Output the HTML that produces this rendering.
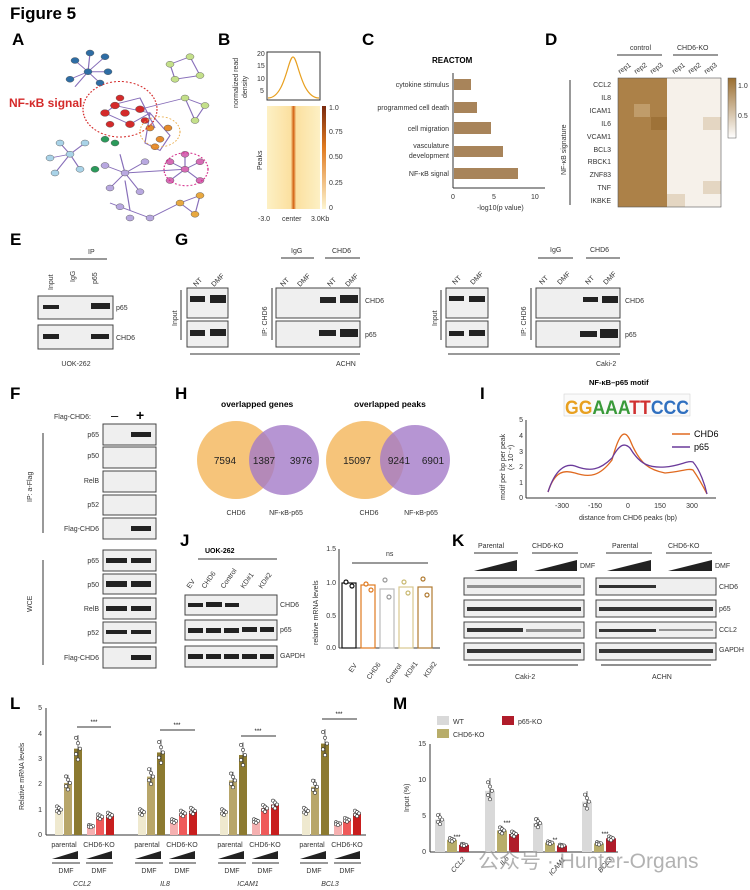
<!DOCTYPE html>
<html><head><meta charset="utf-8"><style>
body{margin:0;background:#fff}
svg{display:block;font-family:"Liberation Sans",sans-serif}
.b{font-weight:bold;font-size:17px}
.s{font-size:7px;fill:#333}
.blot{fill:#efefef;stroke:#444;stroke-width:1}
.band{fill:#222}
</style></head><body>
<svg width="750" height="890" viewBox="0 0 750 890">
<text x="10" y="19" class="b" font-size="17">Figure 5</text>
<text x="12" y="45" class="b">A</text><text x="218" y="45" class="b">B</text>
<text x="362" y="45" class="b">C</text><text x="545" y="45" class="b">D</text>
<text x="10" y="245" class="b">E</text><text x="175" y="245" class="b">G</text>
<text x="10" y="399" class="b">F</text><text x="175" y="399" class="b">H</text>
<text x="480" y="399" class="b">I</text><text x="180" y="546" class="b">J</text>
<text x="452" y="546" class="b">K</text><text x="10" y="709" class="b">L</text>
<text x="393" y="709" class="b">M</text>
<!-- A network -->
<g transform="translate(0,-7) scale(1,0.75)">
<g stroke="#6a4ba8" stroke-width="1.2" opacity="0.8" fill="none">
<path d="M88 105 L75 90 M88 105 L105 85 M88 105 L70 115 M88 105 L100 120 M88 105 L90 80 M88 105 L75 125 M88 105 L108 105"/>
<path d="M115 150 L150 160 L130 175 L105 160 Z M110 150 L140 140 L155 180 M150 160 L170 190 L160 210 L145 200 Z"/>
<path d="M70 215 L60 200 M70 215 L50 220 M70 215 L85 200 M70 215 L80 235 M70 215 L55 240"/>
<path d="M125 240 L105 230 M125 240 L145 225 M125 240 L110 260 M125 240 L140 265 M125 240 L120 215 M125 250 L130 290 L110 280 L150 300"/>
<path d="M185 235 L170 225 M185 235 L200 225 M185 235 L170 250 M185 235 L200 250 M185 235 L185 215"/>
<path d="M170 95 L190 85 L200 110 L175 115 Z M185 140 L205 150 L195 170 Z M180 280 L200 270 L195 295 Z M140 155 L185 140 M125 240 L185 235 M150 300 L180 280"/>
</g>
<g stroke="#555" stroke-width="0.5">
<g fill="#2e6da4"><circle cx="88" cy="105" r="4"/><circle cx="75" cy="90" r="4"/><circle cx="105" cy="85" r="4"/><circle cx="70" cy="115" r="4"/><circle cx="100" cy="120" r="4"/><circle cx="90" cy="80" r="4"/><circle cx="108" cy="105" r="4"/></g>
<g fill="#d42a2a"><circle cx="105" cy="160" r="4.5"/><circle cx="115" cy="150" r="4.5"/><circle cx="130" cy="175" r="4.5"/><circle cx="140" cy="155" r="4.5"/><circle cx="125" cy="160" r="4.5"/><circle cx="110" cy="175" r="4"/><circle cx="145" cy="170" r="4"/><circle cx="120" cy="140" r="4"/></g>
<g fill="#e58a2c"><circle cx="150" cy="180" r="4"/><circle cx="160" cy="195" r="4"/><circle cx="168" cy="180" r="4"/><circle cx="155" cy="205" r="4"/></g>
<g fill="#d66bb5"><circle cx="185" cy="235" r="4"/><circle cx="170" cy="225" r="4"/><circle cx="200" cy="225" r="4"/><circle cx="170" cy="250" r="4"/><circle cx="200" cy="250" r="4"/><circle cx="185" cy="215" r="4"/></g>
<g fill="#a9d3e8"><circle cx="70" cy="215" r="4"/><circle cx="60" cy="200" r="4"/><circle cx="50" cy="220" r="4"/><circle cx="85" cy="200" r="4"/><circle cx="80" cy="235" r="4"/><circle cx="55" cy="240" r="4"/></g>
<g fill="#b8a8e0"><circle cx="125" cy="240" r="4"/><circle cx="105" cy="230" r="4"/><circle cx="145" cy="225" r="4"/><circle cx="110" cy="260" r="4"/><circle cx="140" cy="265" r="4"/><circle cx="120" cy="285" r="4"/><circle cx="150" cy="300" r="4"/><circle cx="130" cy="300" r="4"/></g>
<g fill="#c4e08a"><circle cx="170" cy="95" r="4"/><circle cx="190" cy="85" r="4"/><circle cx="200" cy="110" r="4"/><circle cx="175" cy="115" r="4"/><circle cx="185" cy="140" r="4"/><circle cx="205" cy="150" r="4"/><circle cx="195" cy="170" r="4"/></g>
<g fill="#e8a840"><circle cx="180" cy="280" r="4"/><circle cx="200" cy="270" r="4"/><circle cx="195" cy="295" r="4"/></g>
<g fill="#2a9a5a"><circle cx="105" cy="195" r="4"/><circle cx="115" cy="200" r="4"/><circle cx="95" cy="235" r="4"/></g>
</g>
<circle cx="120" cy="155" r="37" fill="none" stroke="#d42a2a" stroke-dasharray="2,2" stroke-width="1.3"/>
<circle cx="160" cy="185" r="20" fill="none" stroke="#e8a840" stroke-dasharray="2,2"/>
<circle cx="186" cy="235" r="22" fill="none" stroke="#d42a8a" stroke-dasharray="2,2" stroke-width="1.3"/>
</g>
<text x="9" y="107" fill="#d42a2a" font-weight="bold" font-size="12">NF-κB signal</text>
<!-- B -->
<rect x="267" y="52" width="53" height="48" fill="none" stroke="#333"/>
<path d="M268 98 C285 98 288 57 293 57 C298 57 301 98 319 98" fill="none" stroke="#e8a020" stroke-width="1.2"/>
<g class="s" font-size="6"><text x="257" y="56">20</text><text x="257" y="68">15</text><text x="257" y="81">10</text><text x="260" y="93">5</text></g>
<text transform="translate(238,108) rotate(-90)" class="s" font-size="6.5">normalized read</text>
<text transform="translate(247,98) rotate(-90)" class="s" font-size="6.5">density</text>
<defs><linearGradient id="hg" x1="0" x2="1"><stop offset="0" stop-color="#fdf0c4"/><stop offset="0.45" stop-color="#fbe0a0"/><stop offset="0.5" stop-color="#d26010"/><stop offset="0.55" stop-color="#fbe0a0"/><stop offset="1" stop-color="#fdf0c4"/></linearGradient>
<linearGradient id="cb" x1="0" y1="0" x2="0" y2="1"><stop offset="0" stop-color="#7a2a10"/><stop offset="0.4" stop-color="#e07a20"/><stop offset="1" stop-color="#fdf5d0"/></linearGradient>
<linearGradient id="cd" x1="0" y1="0" x2="0" y2="1"><stop offset="0" stop-color="#9a6e30"/><stop offset="1" stop-color="#fff"/></linearGradient></defs>
<rect x="267" y="106" width="53" height="103" fill="url(#hg)"/>
<rect x="322" y="106" width="4" height="103" fill="url(#cb)"/>
<g class="s" font-size="6"><text x="329" y="110">1.0</text><text x="329" y="134">0.75</text><text x="329" y="159">0.50</text><text x="329" y="185">0.25</text><text x="329" y="210">0</text></g>
<text transform="translate(262,170) rotate(-90)" class="s" font-size="8">Peaks</text>
<g class="s"><text x="258" y="221">-3.0</text><text x="282" y="221">center</text><text x="311" y="221">3.0Kb</text></g>
<!-- C -->
<text x="432" y="63" font-size="8" font-weight="bold">REACTOM</text>
<line x1="453" y1="73" x2="453" y2="188" stroke="#333"/><line x1="453" y1="188" x2="545" y2="188" stroke="#333"/>
<g fill="#a8845a"><rect x="454" y="79" width="17" height="11"/><rect x="454" y="102" width="23" height="11"/><rect x="454" y="122" width="37" height="12"/><rect x="454" y="146" width="49" height="11"/><rect x="454" y="168" width="64" height="11"/></g>
<g class="s" text-anchor="end" font-size="7.5"><text x="449" y="87">cytokine stimulus</text><text x="449" y="110">programmed cell death</text><text x="449" y="131">cell migration</text><text x="449" y="148">vasculature</text><text x="449" y="158">development</text><text x="449" y="176">NF-κB signal</text></g>
<g class="s"><text x="451" y="199">0</text><text x="492" y="199">5</text><text x="531" y="199">10</text><text x="477" y="210">-log10(p value)</text></g>
<!-- D -->
<text x="630" y="50" class="s">control</text><text x="677" y="50" class="s">CHD6-KO</text>
<line x1="617" y1="55" x2="662" y2="55" stroke="#333"/><line x1="673" y1="55" x2="718" y2="55" stroke="#333"/>
<g class="s" font-size="6.5"><text transform="translate(620,74) rotate(-35)">rep1</text><text transform="translate(636,74) rotate(-35)">rep2</text><text transform="translate(652,74) rotate(-35)">rep3</text><text transform="translate(674,74) rotate(-35)">rep1</text><text transform="translate(690,74) rotate(-35)">rep2</text><text transform="translate(706,74) rotate(-35)">rep3</text></g>
<rect x="618" y="78" width="49" height="129" fill="#ac8148"/>
<rect x="634" y="104" width="16" height="13" fill="#c09c6a"/><rect x="651" y="117" width="16" height="13" fill="#9e7238"/>
<rect x="667" y="78" width="54" height="129" fill="#f6f1ea"/>
<rect x="703" y="117" width="18" height="13" fill="#e4d6c2"/><rect x="703" y="181" width="18" height="13" fill="#e4d6c2"/><rect x="667" y="194" width="18" height="13" fill="#e4d6c2"/>
<rect x="618" y="78" width="103" height="129" fill="none" stroke="#555" stroke-width="0.6"/>
<g class="s" text-anchor="end" font-size="7.5"><text x="611" y="87">CCL2</text><text x="611" y="100">IL8</text><text x="611" y="113">ICAM1</text><text x="611" y="126">IL6</text><text x="611" y="139">VCAM1</text><text x="611" y="152">BCL3</text><text x="611" y="164">RBCK1</text><text x="611" y="177">ZNF83</text><text x="611" y="190">TNF</text><text x="611" y="203">IKBKE</text></g>
<line x1="570" y1="80" x2="570" y2="205" stroke="#333"/>
<text transform="translate(566,175) rotate(-90)" class="s">NF-κB signature</text>
<rect x="728" y="78" width="8" height="60" fill="url(#cd)" stroke="#555" stroke-width="0.5"/>
<text x="738" y="88" class="s" font-size="6">1.0</text><text x="738" y="118" class="s" font-size="6">0.5</text>
<!-- E -->
<text x="88" y="254" class="s">IP</text><line x1="70" y1="259" x2="107" y2="259" stroke="#333"/>
<g class="s"><text transform="translate(53,290) rotate(-90)">Input</text><text transform="translate(75,282) rotate(-90)">IgG</text><text transform="translate(97,284) rotate(-90)">p65</text></g>
<rect x="38" y="296" width="75" height="23" class="blot"/><rect x="38" y="325" width="75" height="24" class="blot"/>
<rect x="43" y="305" width="16" height="4" class="band"/><rect x="91" y="303" width="19" height="6" class="band"/>
<rect x="43" y="334" width="16" height="5" class="band"/><rect x="91" y="334" width="18" height="5" class="band"/>
<text x="116" y="310" class="s">p65</text><text x="116" y="340" class="s">CHD6</text><text x="76" y="366" class="s" text-anchor="middle">UOK-262</text>
<!-- G -->
<g class="s"><text x="291" y="253">IgG</text><text x="332" y="253">CHD6</text><text x="550" y="252">IgG</text><text x="590" y="252">CHD6</text></g>
<g stroke="#333"><line x1="281" y1="258" x2="314" y2="258"/><line x1="325" y1="258" x2="360" y2="258"/><line x1="538" y1="258" x2="573" y2="258"/><line x1="586" y1="258" x2="620" y2="258"/></g>
<g class="s" font-size="7.5"><text transform="translate(196,287) rotate(-45)">NT</text><text transform="translate(214,287) rotate(-45)">DMF</text><text transform="translate(283,287) rotate(-45)">NT</text><text transform="translate(300,287) rotate(-45)">DMF</text><text transform="translate(330,287) rotate(-45)">NT</text><text transform="translate(348,287) rotate(-45)">DMF</text>
<text transform="translate(455,285) rotate(-45)">NT</text><text transform="translate(473,285) rotate(-45)">DMF</text><text transform="translate(542,285) rotate(-45)">NT</text><text transform="translate(560,285) rotate(-45)">DMF</text><text transform="translate(588,285) rotate(-45)">NT</text><text transform="translate(606,285) rotate(-45)">DMF</text></g>
<g class="blot"><rect x="187" y="288" width="41" height="30"/><rect x="187" y="321" width="41" height="26"/><rect x="276" y="288" width="84" height="30"/><rect x="276" y="321" width="84" height="26"/>
<rect x="446" y="288" width="42" height="30"/><rect x="446" y="321" width="42" height="26"/><rect x="536" y="288" width="84" height="30"/><rect x="536" y="321" width="84" height="26"/></g>
<g class="band"><rect x="190" y="296" width="15" height="6"/><rect x="210" y="295" width="16" height="8"/><rect x="320" y="297" width="16" height="6"/><rect x="340" y="295" width="18" height="8"/>
<rect x="190" y="330" width="15" height="6"/><rect x="210" y="329" width="16" height="7"/><rect x="319" y="330" width="17" height="6"/><rect x="340" y="329" width="18" height="8"/>
<rect x="449" y="296" width="15" height="5"/><rect x="469" y="296" width="16" height="6"/><rect x="583" y="297" width="15" height="5"/><rect x="602" y="296" width="16" height="7"/>
<rect x="449" y="331" width="15" height="5"/><rect x="469" y="330" width="16" height="6"/><rect x="580" y="331" width="17" height="6"/><rect x="600" y="329" width="18" height="9"/></g>
<g class="s"><text x="365" y="303">CHD6</text><text x="365" y="337">p65</text><text x="625" y="303">CHD6</text><text x="625" y="337">p65</text></g>
<line x1="181" y1="290" x2="181" y2="340" stroke="#333"/><line x1="272" y1="288" x2="272" y2="340" stroke="#333"/><line x1="441" y1="290" x2="441" y2="340" stroke="#333"/><line x1="531" y1="288" x2="531" y2="340" stroke="#333"/>
<text transform="translate(177,326) rotate(-90)" class="s">Input</text><text transform="translate(267,336) rotate(-90)" class="s">IP: CHD6</text>
<text transform="translate(437,326) rotate(-90)" class="s">Input</text><text transform="translate(526,336) rotate(-90)" class="s">IP: CHD6</text>
<line x1="190" y1="354" x2="360" y2="354" stroke="#333"/><line x1="448" y1="354" x2="620" y2="354" stroke="#333"/>
<text x="336" y="366" class="s">ACHN</text><text x="596" y="366" class="s">Caki-2</text>
<!-- F -->
<text x="54" y="419" class="s">Flag-CHD6:</text><text x="111" y="420" font-size="13">–</text><text x="136" y="420" font-size="14" font-weight="bold">+</text>
<g class="blot"><rect x="103" y="424" width="53" height="21"/><rect x="103" y="447" width="53" height="21"/><rect x="103" y="471" width="53" height="21"/><rect x="103" y="495" width="53" height="20"/><rect x="103" y="518" width="53" height="21"/>
<rect x="103" y="550" width="53" height="21"/><rect x="103" y="574" width="53" height="20"/><rect x="103" y="598" width="53" height="21"/><rect x="103" y="622" width="53" height="21"/><rect x="103" y="647" width="53" height="21"/></g>
<g class="band"><rect x="131" y="432" width="20" height="5"/><rect x="131" y="526" width="20" height="5"/><rect x="106" y="558" width="21" height="5"/><rect x="131" y="558" width="20" height="5"/><rect x="106" y="581" width="21" height="6"/><rect x="131" y="581" width="20" height="6"/><rect x="106" y="606" width="21" height="5"/><rect x="131" y="606" width="20" height="5"/><rect x="106" y="630" width="21" height="4"/><rect x="131" y="630" width="20" height="4"/><rect x="131" y="655" width="20" height="5"/></g>
<g class="s" text-anchor="end"><text x="99" y="437">p65</text><text x="99" y="458">p50</text><text x="99" y="483">RelB</text><text x="99" y="507">p52</text><text x="99" y="531">Flag-CHD6</text><text x="99" y="563">p65</text><text x="99" y="587">p50</text><text x="99" y="611">RelB</text><text x="99" y="635">p52</text><text x="99" y="660">Flag-CHD6</text></g>
<line x1="43" y1="433" x2="43" y2="533" stroke="#333"/><line x1="43" y1="560" x2="43" y2="665" stroke="#333"/>
<text transform="translate(32,502) rotate(-90)" class="s">IP: a-Flag</text><text transform="translate(32,612) rotate(-90)" class="s">WCE</text>
<!-- H -->
<text x="221" y="407" font-size="8.5" font-weight="bold">overlapped genes</text><text x="354" y="407" font-size="8.5" font-weight="bold">overlapped peaks</text>
<circle cx="236" cy="460" r="39" fill="#f6c47a"/><circle cx="284" cy="460" r="35" fill="#a47bc8" fill-opacity="0.8"/>
<circle cx="365" cy="460" r="39" fill="#f6c47a"/><circle cx="415" cy="460" r="35" fill="#a47bc8" fill-opacity="0.8"/>
<g font-size="10" text-anchor="middle" fill="#222"><text x="225" y="464">7594</text><text x="264" y="464">1387</text><text x="301" y="464">3976</text><text x="357" y="464">15097</text><text x="399" y="464">9241</text><text x="433" y="464">6901</text></g>
<g class="s" text-anchor="middle"><text x="236" y="515">CHD6</text><text x="286" y="515">NF-κB-p65</text><text x="369" y="515">CHD6</text><text x="421" y="515">NF-κB-p65</text></g>
<!-- I -->
<text x="589" y="385" font-size="7.5" font-weight="bold">NF-κB–p65 motif</text>
<rect x="564" y="394" width="126" height="22" fill="#fafafa" stroke="#ccc" stroke-width="0.5"/>
<text x="565" y="414" font-size="19" font-weight="bold" fill="#e8a020" textLength="124" lengthAdjust="spacingAndGlyphs">GG<tspan fill="#3a9a3a">AAA</tspan><tspan fill="#d03030">TT</tspan><tspan fill="#3070c0">CCC</tspan></text>
<line x1="526" y1="420" x2="526" y2="498" stroke="#333"/><line x1="526" y1="498" x2="716" y2="498" stroke="#333"/>
<g class="s" font-size="6" text-anchor="end"><text x="523" y="422">5</text><text x="523" y="438">4</text><text x="523" y="454">3</text><text x="523" y="469">2</text><text x="523" y="485">1</text><text x="523" y="500">0</text></g>
<path d="M548 492 C555 470 565 470 575 473 C590 478 600 476 612 460 C620 430 625 430 630 440 C640 465 650 470 665 473 C680 472 688 468 693 470 C700 480 705 490 707 494" fill="none" stroke="#e06a20" stroke-width="1.3"/>
<path d="M548 492 C555 470 565 463 575 466 C590 472 600 470 612 458 C620 443 625 443 630 448 C640 465 650 468 665 467 C680 466 688 460 693 462 C700 470 705 485 707 494" fill="none" stroke="#6a3a9a" stroke-width="1.3"/>
<line x1="672" y1="434" x2="690" y2="434" stroke="#e06a20" stroke-width="1.5"/><text x="694" y="437" font-size="9">CHD6</text>
<line x1="672" y1="447" x2="690" y2="447" stroke="#6a3a9a" stroke-width="1.5"/><text x="694" y="450" font-size="9">p65</text>
<g class="s" font-size="6.5" text-anchor="middle"><text x="562" y="508">-300</text><text x="595" y="508">-150</text><text x="628" y="508">0</text><text x="660" y="508">150</text><text x="692" y="508">300</text></g>
<text x="628" y="520" class="s" text-anchor="middle">distance from CHD6 peaks (bp)</text>
<text transform="translate(505,500) rotate(-90)" class="s" font-size="6">motif per bp per peak</text>
<text transform="translate(513,470) rotate(-90)" class="s" font-size="6">(× 10⁻⁴)</text>
<!-- J -->
<text x="205" y="553" font-size="7" font-weight="bold">UOK-262</text><line x1="198" y1="559" x2="277" y2="559" stroke="#333"/>
<g class="s"><text transform="translate(190,589) rotate(-55)">EV</text><text transform="translate(205,589) rotate(-55)">CHD6</text><text transform="translate(224,589) rotate(-55)">Control</text><text transform="translate(244,589) rotate(-55)">KD#1</text><text transform="translate(262,589) rotate(-55)">KD#2</text></g>
<g class="blot"><rect x="185" y="595" width="92" height="20"/><rect x="185" y="620" width="92" height="20"/><rect x="185" y="646" width="92" height="21"/></g>
<g class="band"><rect x="188" y="603" width="15" height="4"/><rect x="206" y="602" width="16" height="5"/><rect x="225" y="603" width="14" height="4"/>
<rect x="188" y="628" width="15" height="5"/><rect x="206" y="628" width="15" height="5"/><rect x="224" y="628" width="15" height="5"/><rect x="242" y="627" width="15" height="5"/><rect x="260" y="627" width="14" height="5"/>
<rect x="188" y="654" width="15" height="5"/><rect x="206" y="654" width="15" height="5"/><rect x="224" y="654" width="15" height="5"/><rect x="242" y="654" width="15" height="5"/><rect x="260" y="654" width="14" height="5"/></g>
<g class="s"><text x="280" y="607">CHD6</text><text x="280" y="632">p65</text><text x="280" y="658">GAPDH</text></g>
<text x="386" y="556" class="s">ns</text><line x1="352" y1="563" x2="428" y2="563" stroke="#333"/>
<line x1="339" y1="549" x2="339" y2="648" stroke="#333"/><line x1="339" y1="648" x2="440" y2="648" stroke="#333"/>
<g fill="none" stroke-width="1.2"><rect x="342" y="583" width="14" height="65" stroke="#111"/><rect x="361" y="585" width="14" height="63" stroke="#e07a20"/><rect x="380" y="589" width="14" height="59" stroke="#bbb"/><rect x="399" y="587" width="14" height="61" stroke="#d8c890"/><rect x="418" y="587" width="14" height="61" stroke="#b07a30"/></g>
<g fill="#fff" stroke-width="1.2"><circle cx="346" cy="582" r="2" stroke="#111"/><circle cx="352" cy="586" r="2" stroke="#111"/><circle cx="366" cy="584" r="2" stroke="#e07a20"/><circle cx="371" cy="590" r="2" stroke="#e07a20"/><circle cx="385" cy="580" r="2" stroke="#999"/><circle cx="389" cy="597" r="2" stroke="#999"/><circle cx="404" cy="582" r="2" stroke="#c8b870"/><circle cx="408" cy="593" r="2" stroke="#c8b870"/><circle cx="423" cy="579" r="2" stroke="#b07a30"/><circle cx="427" cy="595" r="2" stroke="#b07a30"/></g>
<g class="s" font-size="6" text-anchor="end"><text x="336" y="551">1.5</text><text x="336" y="585">1.0</text><text x="336" y="618">0.5</text><text x="336" y="650">0.0</text></g>
<text transform="translate(318,645) rotate(-90)" class="s">relative mRNA levels</text>
<g class="s"><text transform="translate(352,673) rotate(-55)">EV</text><text transform="translate(370,680) rotate(-55)">CHD6</text><text transform="translate(389,684) rotate(-55)">Control</text><text transform="translate(408,678) rotate(-55)">KD#1</text><text transform="translate(427,678) rotate(-55)">KD#2</text></g>
<!-- K -->
<g class="s"><text x="478" y="548">Parental</text><text x="532" y="548">CHD6-KO</text><text x="612" y="548">Parental</text><text x="668" y="548">CHD6-KO</text></g>
<g stroke="#333"><line x1="474" y1="553" x2="518" y2="553"/><line x1="532" y1="553" x2="578" y2="553"/><line x1="606" y1="553" x2="652" y2="553"/><line x1="666" y1="553" x2="712" y2="553"/></g>
<g fill="#222"><path d="M474 571 L517 560 L517 571Z"/><path d="M534 571 L577 560 L577 571Z"/><path d="M607 571 L651 560 L651 571Z"/><path d="M668 571 L712 560 L712 571Z"/></g>
<g class="s" font-size="5"><text x="580" y="568">DMF</text><text x="715" y="568">DMF</text></g>
<g class="blot"><rect x="464" y="578" width="120" height="17"/><rect x="464" y="600" width="120" height="17"/><rect x="464" y="622" width="120" height="16"/><rect x="464" y="643" width="120" height="17"/>
<rect x="596" y="578" width="120" height="17"/><rect x="596" y="600" width="120" height="17"/><rect x="596" y="622" width="120" height="16"/><rect x="596" y="643" width="120" height="17"/></g>
<g fill="#333"><rect x="467" y="585" width="114" height="3" opacity="0.5"/><rect x="467" y="607" width="114" height="4"/><rect x="467" y="628" width="56" height="4"/><rect x="526" y="629" width="55" height="3" opacity="0.5"/><rect x="467" y="649" width="114" height="4"/>
<rect x="599" y="585" width="57" height="3"/><rect x="599" y="607" width="114" height="4"/><rect x="599" y="629" width="57" height="3"/><rect x="659" y="629" width="54" height="2" opacity="0.5"/><rect x="599" y="649" width="114" height="4"/></g>
<g class="s"><text x="719" y="589">CHD6</text><text x="719" y="611">p65</text><text x="719" y="632">CCL2</text><text x="719" y="652">GAPDH</text></g>
<line x1="468" y1="665" x2="578" y2="665" stroke="#222"/><line x1="601" y1="665" x2="711" y2="665" stroke="#222"/>
<text x="515" y="679" class="s">Caki-2</text><text x="652" y="679" class="s">ACHN</text>
<!-- L -->
<line x1="46" y1="708" x2="46" y2="835" stroke="#333"/><line x1="46" y1="835" x2="366" y2="835" stroke="#333"/>
<g class="s" font-size="6" text-anchor="end"><text x="42" y="710">5</text><text x="42" y="736">4</text><text x="42" y="761">3</text><text x="42" y="786">2</text><text x="42" y="812">1</text><text x="42" y="837">0</text></g>
<text transform="translate(24,810) rotate(-90)" class="s" font-size="7.5">Relative mRNA levels</text>
<g id="Lbars"></g>
<g stroke="#333"><line x1="77" y1="727" x2="111" y2="727"/><line x1="160" y1="730" x2="195" y2="730"/><line x1="241" y1="736" x2="276" y2="736"/><line x1="322" y1="719" x2="357" y2="719"/></g>
<g font-size="6" text-anchor="middle"><text x="94" y="724">***</text><text x="177" y="727">***</text><text x="258" y="733">***</text><text x="339" y="716">***</text></g>
<g class="s" font-size="6.5" text-anchor="middle">
<text x="64" y="847">parental</text><text x="99" y="847">CHD6-KO</text><text x="147" y="847">parental</text><text x="182" y="847">CHD6-KO</text><text x="230" y="847">parental</text><text x="265" y="847">CHD6-KO</text><text x="312" y="847">parental</text><text x="347" y="847">CHD6-KO</text>
<text x="66" y="873">DMF</text><text x="99" y="873">DMF</text><text x="149" y="873">DMF</text><text x="182" y="873">DMF</text><text x="232" y="873">DMF</text><text x="265" y="873">DMF</text><text x="314" y="873">DMF</text><text x="347" y="873">DMF</text>
<g font-style="italic"><text x="82" y="886">CCL2</text><text x="165" y="886">IL8</text><text x="248" y="886">ICAM1</text><text x="330" y="886">BCL3</text></g></g>
<g fill="#222"><path d="M52 859 L78 851 L78 859Z"/><path d="M86 859 L112 851 L112 859Z"/><path d="M135 859 L161 851 L161 859Z"/><path d="M169 859 L195 851 L195 859Z"/><path d="M218 859 L244 851 L244 859Z"/><path d="M252 859 L278 851 L278 859Z"/><path d="M300 859 L326 851 L326 859Z"/><path d="M334 859 L360 851 L360 859Z"/></g>
<g stroke="#333"><line x1="52" y1="863" x2="80" y2="863"/><line x1="86" y1="863" x2="113" y2="863"/><line x1="135" y1="863" x2="163" y2="863"/><line x1="169" y1="863" x2="196" y2="863"/><line x1="218" y1="863" x2="246" y2="863"/><line x1="252" y1="863" x2="279" y2="863"/><line x1="300" y1="863" x2="328" y2="863"/><line x1="334" y1="863" x2="361" y2="863"/></g>
<!-- M -->
<rect x="437" y="716" width="12" height="9" fill="#d9d9d9"/><text x="453" y="724" class="s" font-size="8">WT</text>
<rect x="437" y="729" width="12" height="9" fill="#b8ad6a"/><text x="453" y="737" class="s" font-size="8">CHD6-KO</text>
<rect x="502" y="716" width="12" height="9" fill="#b01c2a"/><text x="518" y="724" class="s" font-size="8">p65-KO</text>
<line x1="430" y1="744" x2="430" y2="852" stroke="#333"/><line x1="430" y1="852" x2="618" y2="852" stroke="#333"/>
<g class="s" font-size="6" text-anchor="end"><text x="426" y="746">15</text><text x="426" y="782">10</text><text x="426" y="818">5</text><text x="426" y="854">0</text></g>
<text transform="translate(409,812) rotate(-90)" class="s" font-size="7.5">Input (%)</text>
<g id="Mbars"></g>
<g font-size="6" text-anchor="middle"><text x="457" y="839">***</text><text x="507" y="825">***</text><text x="555" y="842">**</text><text x="605" y="836">***</text></g>
<g class="s" font-size="7" font-style="italic"><text transform="translate(454,873) rotate(-50)">CCL2</text><text transform="translate(503,866) rotate(-50)">IL6</text><text transform="translate(552,876) rotate(-50)">ICAM1</text><text transform="translate(601,873) rotate(-50)">BCL3</text></g>
<text x="478" y="868" font-size="21" fill="#999" opacity="0.75" font-family="'Liberation Sans','Noto Sans CJK SC',sans-serif">公众号 · Hunter-Organs</text>
</svg>
<script>
var NS="http://www.w3.org/2000/svg";
function el(p,t,a){var e=document.createElementNS(NS,t);for(var k in a)e.setAttribute(k,a[k]);p.appendChild(e);return e;}
var L=document.getElementById("Lbars");
var vals=[[1.0,2.05,3.4,0.35,0.72,0.78],[0.9,2.3,3.25,0.55,0.85,0.95],[0.9,2.15,3.15,0.55,1.05,1.2],[0.95,1.9,3.6,0.45,0.6,0.85]];
var cols=["#efe9cf","#b8a66a","#8c7a30","#f5b0b0","#ef5a5a","#c81e1e"];
var xs=[55,64,74,87,96,106],offs=[0,83,165,247];
offs.forEach(function(o,g){vals[g].forEach(function(v,i){var x=xs[i]+o,h=v*25.4;el(L,"rect",{x:x,y:835-h,width:8,height:h,fill:cols[i]});
el(L,"line",{x1:x+4,y1:835-h-v*4,x2:x+4,y2:835-h+v*3,stroke:"#333","stroke-width":0.7});
for(var k=0;k<5;k++){el(L,"circle",{cx:x+2+(k%3)*2,cy:835-h+(k-2)*v*1.6,r:1.6,fill:"#fff",stroke:"#333","stroke-width":0.6});}});});
var M=document.getElementById("Mbars");
var mv=[[4.5,1.7,1.0],[8.5,3.0,2.5],[4.0,1.3,0.9],[7.0,1.2,1.9]],mc=["#d9d9d9","#b8ad6a","#b01c2a"],mo=[0,50,98,147];
mo.forEach(function(o,g){mv[g].forEach(function(v,i){var x=435+o+i*12,h=v*7.2;el(M,"rect",{x:x,y:852-h,width:10,height:h,fill:mc[i]});
el(M,"line",{x1:x+5,y1:852-h-v*1.5,x2:x+5,y2:852-h+v*1.2,stroke:"#333","stroke-width":0.7});
for(var k=0;k<5;k++){el(M,"circle",{cx:x+3+(k%3)*2,cy:852-h+(k-2)*v*0.5,r:1.6,fill:"#fff",stroke:"#333","stroke-width":0.6});}});});
</script>
</body></html>
